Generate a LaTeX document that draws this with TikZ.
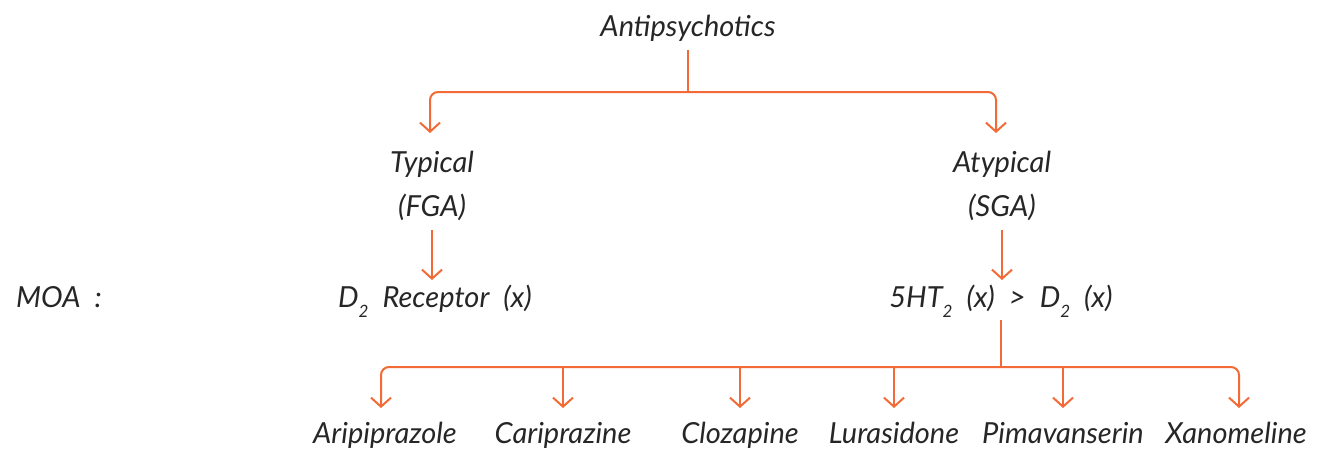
\documentclass[tikz,border=0pt]{standalone}
\usepackage{fontspec}
\setmainfont{Lato}
\usetikzlibrary{arrows.meta}
\definecolor{orng}{HTML}{F26A35}
\definecolor{ink}{HTML}{262626}
\newcommand{\lowsub}[1]{\raisebox{-0.35em}{\fontsize{17}{17}\selectfont #1}}
\newcommand{\hwfont}{\fontsize{29}{34}\selectfont\itshape\spaceskip=14pt plus 2pt\relax}
\begin{document}
\begin{tikzpicture}[x=1pt,y=-1pt,
  lbl/.style={font=\hwfont, text=ink, inner sep=0pt, anchor=base},
  conn/.style={draw=orng, line width=2pt, -{Straight Barb[length=9pt,width=20pt,line width=2pt]}},
  connr/.style={conn, rounded corners=8pt},
  plainline/.style={draw=orng, line width=2pt}]
\useasboundingbox (0,0) rectangle (1322,453);
\node[lbl] (anti) at (688,36) {Antipsychotics};
\node[lbl] (typ) at (432,172) {Typical};
\node[lbl] (fga) at (432,216) {(FGA)};
\node[lbl] (atyp) at (1002,172) {Atypical};
\node[lbl] (sga) at (1002,216) {(SGA)};
\node[lbl] (moa) at (59,307) {MOA :};
\node[lbl] (d2r) at (435,307) {D\lowsub{2} Receptor (x)};
\node[lbl] (sht) at (1001,307) {5HT\lowsub{2} (x) > D\lowsub{2} (x)};
\node[lbl] (ari) at (385,443) {Aripiprazole};
\node[lbl] (cari) at (563,443) {Cariprazine};
\node[lbl] (cloz) at (740,443) {Clozapine};
\node[lbl] (lura) at (894,443) {Lurasidone};
\node[lbl] (pima) at (1063,443) {Pimavanserin};
\node[lbl] (xano) at (1236,443) {Xanomeline};
\coordinate (b1) at (688,92);
\coordinate (b2) at (1001,367);
% top split
\draw[plainline] (anti.south |- 0,50) -- (b1);
\draw[connr] (b1) -| (430,133);
\draw[connr] (b1) -| (996,133);
% MOA arrows
\draw[conn] (fga.south |- 0,230) -- (fga.south |- 0,280);
\draw[conn] (sga.south |- 0,230) -- (sga.south |- 0,280);
% bottom split
\draw[plainline] (sht.south |- 0,320) -- (b2);
\draw[connr] (b2) -| (381,408);
\draw[connr] (b2) -| (1239,408);
\draw[conn] (cari.north |- b2) -- (cari.north |- 0,408);
\draw[conn] (cloz.north |- b2) -- (cloz.north |- 0,408);
\draw[conn] (lura.north |- b2) -- (lura.north |- 0,408);
\draw[conn] (pima.north |- b2) -- (pima.north |- 0,408);
\end{tikzpicture}
\end{document}
